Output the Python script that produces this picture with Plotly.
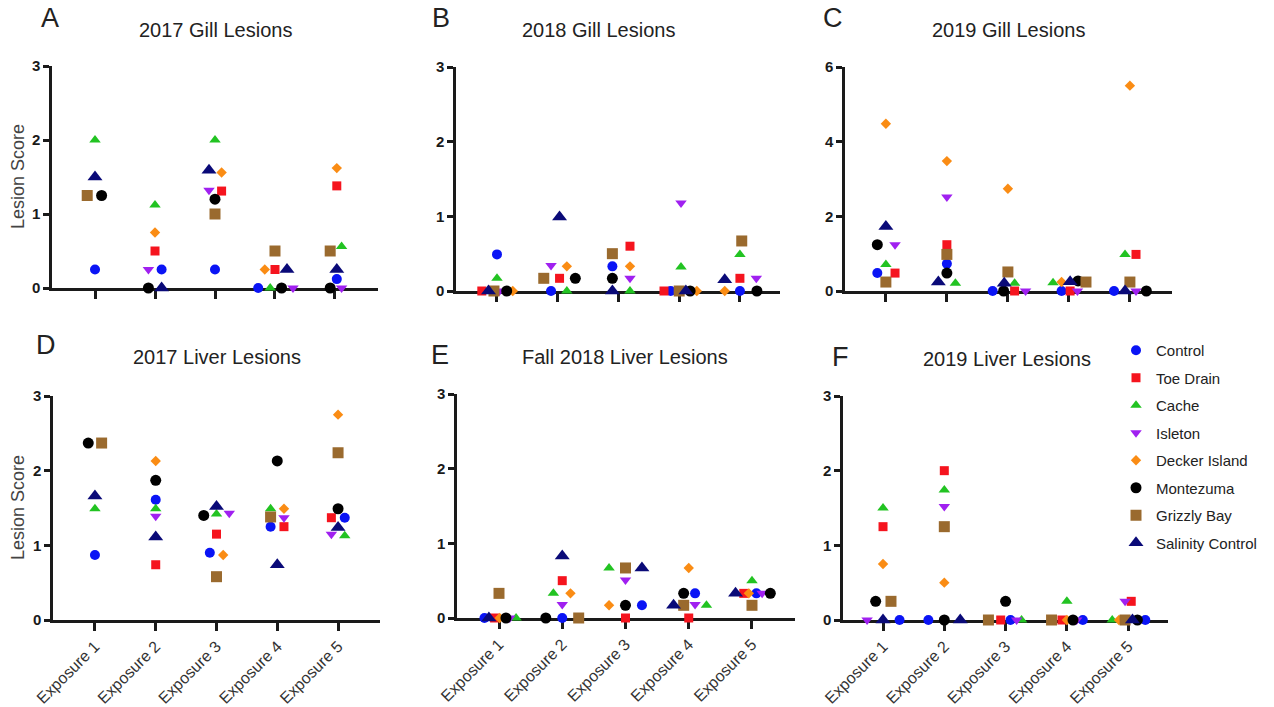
import plotly.graph_objects as go

W, H = 1274, 707

sites = ["Control", "Toe Drain", "Cache", "Isleton", "Decker Island",
         "Montezuma", "Grizzly Bay", "Salinity Control"]
exposures = ["Exposure 1", "Exposure 2", "Exposure 3", "Exposure 4", "Exposure 5"]

# ---- values (lesion scores) per panel, site -> exposure 1..5 ----
gill_2017 = {
    "Control": [0.25, 0.25, 0.25, 0, 0.12],
    "Toe Drain": [None, 0.5, 1.31, 0.25, 1.38],
    "Cache": [2.0, 1.12, 2.0, 0, 0.56],
    "Isleton": [None, 0.25, 1.32, 0, 0],
    "Decker Island": [None, 0.75, 1.56, 0.25, 1.62],
    "Montezuma": [1.25, 0, 1.2, 0, 0],
    "Grizzly Bay": [1.25, None, 1.0, 0.5, 0.5],
    "Salinity Control": [1.5, 0, 1.59, 0.25, 0.25],
}
gill_2018 = {
    "Control": [0.49, 0, 0.33, 0, 0],
    "Toe Drain": [0, 0.17, 0.6, 0, 0.17],
    "Cache": [0.17, 0, 0, 0.32, 0.49],
    "Isleton": [0, 0.34, 0.17, 1.18, 0.17],
    "Decker Island": [0, 0.33, 0.33, 0, 0],
    "Montezuma": [0, 0.17, 0.17, 0, 0],
    "Grizzly Bay": [0, 0.17, 0.5, 0, 0.67],
    "Salinity Control": [0, 0.99, 0, 0, 0.15],
}
gill_2019 = {
    "Control": [0.48, 0.73, 0, 0, 0],
    "Toe Drain": [0.48, 1.24, 0, 0, 0.98],
    "Cache": [0.71, 0.21, 0.21, 0.22, 0.98],
    "Isleton": [1.24, 2.52, 0, 0, 0],
    "Decker Island": [4.48, 3.48, 2.74, 0.24, 5.5],
    "Montezuma": [1.24, 0.48, 0, 0.27, 0],
    "Grizzly Bay": [0.24, 0.98, 0.51, 0.24, 0.24],
    "Salinity Control": [1.73, 0.24, 0.21, 0.25, 0],
}
liver_2017 = {
    "Control": [0.87, 1.61, 0.9, 1.25, 1.37],
    "Toe Drain": [None, 0.74, 1.15, 1.25, 1.37],
    "Cache": [1.49, 1.49, 1.42, 1.49, 1.13],
    "Isleton": [None, 1.39, 1.43, 1.37, 1.15],
    "Decker Island": [None, 2.13, 0.87, 1.49, 2.75],
    "Montezuma": [2.37, 1.87, 1.40, 2.13, 1.49],
    "Grizzly Bay": [2.37, None, 0.58, 1.38, 2.24],
    "Salinity Control": [1.66, 1.11, 1.52, 0.74, 1.24],
}
liver_2018 = {
    "Control": [0, 0, 0.17, 0.33, 0.33],
    "Toe Drain": [0, 0.5, 0, 0, 0.33],
    "Cache": [0, 0.33, 0.67, 0.17, 0.5],
    "Isleton": [0, 0.18, 0.51, 0.18, 0.33],
    "Decker Island": [0, 0.33, 0.17, 0.67, 0.33],
    "Montezuma": [0, 0, 0.17, 0.33, 0.33],
    "Grizzly Bay": [0.33, 0, 0.67, 0.17, 0.17],
    "Salinity Control": [0, 0.83, 0.67, 0.17, 0.33],
}
liver_2019 = {
    "Control": [0, 0, 0, 0, 0],
    "Toe Drain": [1.25, 2.0, 0, 0, 0.25],
    "Cache": [1.5, 1.74, 0, 0.25, 0],
    "Isleton": [0, 1.52, 0, 0, 0.25],
    "Decker Island": [0.75, 0.5, None, 0, 0],
    "Montezuma": [0.25, 0, 0.25, 0, 0],
    "Grizzly Bay": [0.25, 1.25, 0, 0, 0],
    "Salinity Control": [0, 0, None, None, 0],
}

# ---- horizontal scatter (jitter) offsets, in category units ----
jit_gill_2017 = {
    "Control": [0, 0.11, 0, -0.28, 0.03], "Toe Drain": [0, 0, 0.11, 0, 0.03],
    "Cache": [0, 0, 0, -0.08, 0.11], "Isleton": [0, -0.11, -0.1, 0.3, 0.11],
    "Decker Island": [0, 0, 0.11, -0.17, 0.03], "Montezuma": [0.11, -0.11, 0, 0.11, -0.08],
    "Grizzly Bay": [-0.13, 0, 0, 0, -0.08], "Salinity Control": [0, 0.11, -0.1, 0.2, 0.03],
}
jit_gill_2018 = {
    "Control": [0, -0.11, -0.1, -0.14, 0], "Toe Drain": [-0.25, 0.03, 0.19, -0.25, 0],
    "Cache": [0, 0.15, 0.19, 0.03, 0], "Isleton": [0.04, -0.11, 0.19, 0.03, 0.27],
    "Decker Island": [0.26, 0.15, 0.19, 0.29, -0.25], "Montezuma": [0.16, 0.29, -0.1, 0.18, 0.28],
    "Grizzly Bay": [-0.05, -0.23, -0.1, 0, 0.03], "Salinity Control": [-0.14, 0.03, -0.1, 0.11, -0.25],
}
jit_gill_2019 = {
    "Control": [-0.14, 0, -0.25, -0.12, -0.26], "Toe Drain": [0.15, 0, 0.11, 0.02, 0.1],
    "Cache": [0, 0.14, 0.11, -0.26, -0.08], "Isleton": [0.15, 0, 0.29, 0.14, 0.1],
    "Decker Island": [0, 0, 0, -0.12, 0], "Montezuma": [-0.14, 0, -0.07, 0.15, 0.27],
    "Grizzly Bay": [0, 0, 0, 0.28, 0], "Salinity Control": [0, -0.14, -0.06, 0.02, -0.08],
}
jit_liver_2017 = {
    "Control": [0, 0, -0.11, -0.11, 0.11], "Toe Drain": [0, 0, 0, 0.11, -0.11],
    "Cache": [0, 0, 0, -0.11, 0.11], "Isleton": [0, 0, 0.21, 0.11, -0.11],
    "Decker Island": [0, 0, 0.11, 0.11, 0], "Montezuma": [-0.11, 0, -0.21, 0, 0],
    "Grizzly Bay": [0.11, 0, 0, -0.11, 0], "Salinity Control": [0, 0, 0, 0, 0],
}
jit_liver_2018 = {
    "Control": [-0.23, 0, 0.26, 0.1, 0.07], "Toe Drain": [-0.07, 0, 0, 0, -0.13],
    "Cache": [0.27, -0.14, -0.26, 0.28, 0], "Isleton": [0.17, 0, 0, 0.1, 0.16],
    "Decker Island": [0.01, 0.13, -0.26, 0, -0.05], "Montezuma": [0.11, -0.26, 0, -0.08, 0.29],
    "Grizzly Bay": [0, 0.26, 0, -0.08, 0], "Salinity Control": [-0.16, 0, 0.26, -0.24, -0.26],
}
jit_liver_2019 = {
    "Control": [0.27, -0.26, 0.08, 0.26, 0.28], "Toe Drain": [0, 0, -0.08, -0.08, 0.05],
    "Cache": [0, 0, 0.26, 0, -0.26], "Isleton": [-0.26, 0, 0.18, 0.16, -0.05],
    "Decker Island": [0, 0, 0, 0, -0.15], "Montezuma": [-0.12, 0, 0, 0.1, 0.15],
    "Grizzly Bay": [0.13, 0, -0.28, -0.25, -0.05], "Salinity Control": [0, 0.26, 0, 0, 0.07],
}

# ---- styles ----
colors = {"Control": "#0A14F5", "Toe Drain": "#F5141E", "Cache": "#22C322",
          "Isleton": "#A020F0", "Decker Island": "#FA8C14", "Montezuma": "#000000",
          "Grizzly Bay": "#9A6A2E", "Salinity Control": "#0A0A78"}
symbols = {"Control": "circle", "Toe Drain": "square", "Cache": "triangle-up",
           "Isleton": "triangle-down", "Decker Island": "diamond", "Montezuma": "circle",
           "Grizzly Bay": "square", "Salinity Control": "triangle-up"}
sizes = {"Control": 10, "Toe Drain": 9, "Cache": 10, "Isleton": 10,
         "Decker Island": 8, "Montezuma": 11, "Grizzly Bay": 11, "Salinity Control": 13}

panels = [
    # letter, title, values, jitter, px x0, px x1, px ybottom, px ytop, xrange, ymax, ydtick
    ("A", "2017 Gill Lesions", gill_2017, jit_gill_2017, 52, 378, 288, 66, [0.283, 5.717], 3, 1),
    ("B", "2018 Gill Lesions", gill_2018, jit_gill_2018, 456, 780, 291, 67, [0.325, 5.66], 3, 1),
    ("C", "2019 Gill Lesions", gill_2019, jit_gill_2019, 845, 1172, 291, 67, [0.33, 5.69], 6, 2),
    ("D", "2017 Liver Lesions", liver_2017, jit_liver_2017, 53, 380, 620, 396, [0.31, 5.69], 3, 1),
    ("E", "Fall 2018 Liver Lesions", liver_2018, jit_liver_2018, 457, 795, 618, 394, [0.336, 5.68], 3, 1),
    ("F", "2019 Liver Lesions", liver_2019, jit_liver_2019, 843, 1168, 620, 396, [0.347, 5.65], 3, 1),
]
letter_pos = {"A": (50, 18), "B": (441, 18), "C": (833, 18), "D": (46, 345), "E": (440, 355), "F": (840, 357)}
title_pos = {"A": (215, 30), "B": (598, 30), "C": (1008, 30), "D": (217, 357), "E": (625, 357), "F": (1007, 359)}
ylabel_pos = {"A": (18, 177), "D": (18, 508)}

FONT = "Liberation Sans, Arial, sans-serif"
fig = go.Figure()
layout = {}
annotations = []

for i, (letter, title, vals, jit, x0, x1, yb, yt, xr, ymax, ydt) in enumerate(panels):
    n = "" if i == 0 else str(i + 1)
    xa, ya = "x" + n, "y" + n
    bottom_row = i >= 3
    for s in sites:
        xs, ys = [], []
        for k in range(5):
            v = vals[s][k]
            if v is None:
                continue
            xs.append(k + 1 + jit[s][k])
            ys.append(v)
        fig.add_trace(go.Scatter(
            x=xs, y=ys, mode="markers", name=s, legendgroup=s, showlegend=(i == 0),
            xaxis=xa, yaxis=ya, cliponaxis=False,
            marker=dict(symbol=symbols[s], color=colors[s], size=sizes[s], line=dict(width=0)),
        ))
    layout["xaxis" + n] = dict(
        domain=[x0 / W, x1 / W], range=xr, anchor=ya, automargin=False,
        tickvals=[1, 2, 3, 4, 5], ticktext=exposures,
        showticklabels=bottom_row, tickangle=-45,
        tickfont=dict(family=FONT, size=16, color="#333333"),
        showline=True, linecolor="#1a1a1a", linewidth=2.5,
        ticks="outside", ticklen=8, tickwidth=2.5, tickcolor="#1a1a1a",
        showgrid=False, zeroline=False, layer="below traces", fixedrange=True,
    )
    layout["yaxis" + n] = dict(
        domain=[1 - yb / H, 1 - yt / H], range=[0, ymax], anchor=xa, automargin=False,
        tickvals=list(range(0, ymax + 1, ydt)),
        tickfont=dict(family=FONT, size=15, color="#1a1a1a", weight="bold"),
        showline=True, linecolor="#1a1a1a", linewidth=2.5,
        ticks="outside", ticklen=6, tickwidth=2.5, tickcolor="#1a1a1a",
        showgrid=False, zeroline=False, layer="below traces", fixedrange=True,
    )
    lx, ly = letter_pos[letter]
    annotations.append(dict(text=letter, x=lx / W, y=1 - ly / H, xref="paper", yref="paper",
                            showarrow=False, xanchor="center", yanchor="middle",
                            font=dict(family=FONT, size=27, color="#222222")))
    tx, ty = title_pos[letter]
    annotations.append(dict(text=title, x=tx / W, y=1 - ty / H, xref="paper", yref="paper",
                            showarrow=False, xanchor="center", yanchor="middle",
                            font=dict(family=FONT, size=20, color="#222222")))
    if letter in ylabel_pos:
        px, py = ylabel_pos[letter]
        annotations.append(dict(text="Lesion Score", x=px / W, y=1 - py / H, xref="paper", yref="paper",
                                showarrow=False, xanchor="center", yanchor="middle", textangle=-90,
                                font=dict(family=FONT, size=18, color="#444444")))

fig.update_layout(**layout)
fig.update_layout(
    width=W, height=H, margin=dict(l=0, r=0, t=0, b=0, autoexpand=False),
    paper_bgcolor="white", plot_bgcolor="white",
    annotations=annotations,
    legend=dict(x=1116 / W, y=1 - 334 / H, xanchor="left", yanchor="top",
                font=dict(family=FONT, size=15, color="#222222"),
                bgcolor="rgba(0,0,0,0)", tracegroupgap=5, traceorder="grouped",
                itemwidth=30),
)

fig.write_html("out.html", config={"displayModeBar": False},
               post_script="document.body.style.margin='0';document.body.style.overflow='hidden';")
